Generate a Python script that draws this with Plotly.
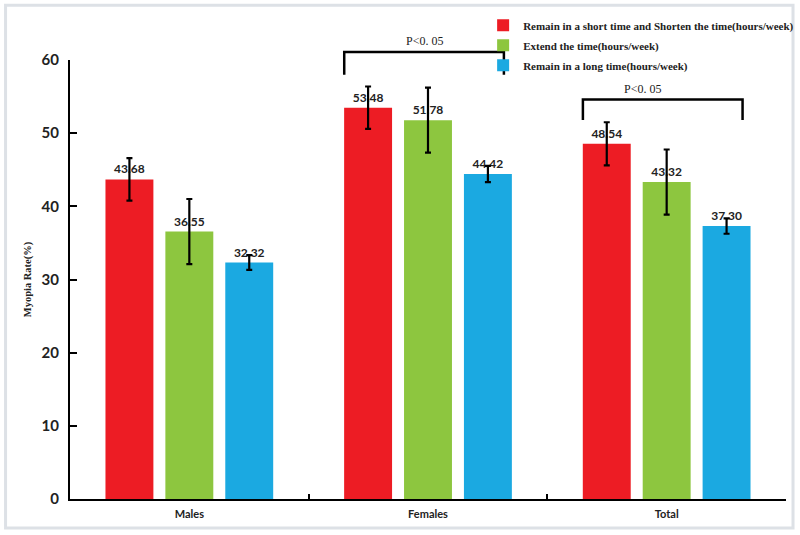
import plotly.graph_objects as go

categories = ["Males", "Females", "Total"]
series_names = [
    "Remain in a short time and Shorten the time(hours/week)",
    "Extend the time(hours/week)",
    "Remain in a long time(hours/week)",
]
short_values = [43.68, 53.48, 48.54]
extend_values = [36.55, 51.78, 43.32]
long_values = [32.32, 44.42, 37.30]
short_err = [2.9, 2.9, 2.95]
extend_err = [4.45, 4.45, 4.45]
long_err = [1.0, 1.1, 1.05]
colors = ["#ED1C24", "#8DC63F", "#1BA9E1"]
y_ticks = [0, 10, 20, 30, 40, 50, 60]
Y_MAX = 60

fig = go.Figure()
for i, (name, vals, errs, col) in enumerate(zip(series_names, [short_values, extend_values, long_values],
                                 [short_err, extend_err, long_err], colors)):
    fig.add_trace(go.Bar(
        name=name, x=categories, y=vals, marker=dict(color=col, line=dict(width=0)),
        legendgroup=f"g{i}",
        error_y=dict(type="data", array=errs, color="black", thickness=2.2, width=3),
        text=[f"{v:.2f}" for v in vals], textposition="outside",
        textfont=dict(family="Lato", size=12, color="#222", weight="bold"),
        cliponaxis=False,
    ))

# significance brackets (Females, Total)
brackets = [(1, 61.1, 58.0), (2, 54.6, 51.8)]
ncat = len(categories)
for ci, ytop, yend in brackets:
    x0 = (ci - 0.351 + 0.5) / ncat
    x1 = (ci + 0.318 + 0.5) / ncat
    yt = ytop / Y_MAX
    ye = yend / Y_MAX
    fig.add_shape(type="path", xref="paper", yref="paper",
                  path=f"M {x0},{ye} L {x0},{yt} L {x1},{yt} L {x1},{ye}",
                  line=dict(color="black", width=2.5))
    fig.add_annotation(x=(x0 + x1) / 2, y=yt, xref="paper", yref="paper", text="P<0. 05",
                       showarrow=False, yanchor="bottom", yshift=2,
                       font=dict(family="Liberation Serif", size=12, color="#222"))

# outer light frame
fig.add_shape(type="rect", xref="paper", yref="paper", x0=-0.09, x1=1.0098, y0=-0.066, y1=1.125,
              line=dict(color="#DDE1E6", width=3), layer="below")

fig.update_layout(
    width=800, height=535, barmode="group", bargap=0.247, bargroupgap=0.2,
    margin=dict(l=70, r=14, t=60, b=36, autoexpand=False),
    plot_bgcolor="white", paper_bgcolor="white",
    legend=dict(x=0.577, y=1.112, xanchor="left", yanchor="top", bgcolor="rgba(0,0,0,0)",
                font=dict(family="Liberation Serif", size=11, color="#222", weight="bold"),
                tracegroupgap=1, itemwidth=30),
    xaxis=dict(showline=True, linecolor="black", linewidth=2, ticks="inside", tickson="boundaries",
               ticklen=5, tickwidth=2, tickcolor="black", ticklabelstandoff=4,
               tickfont=dict(family="Lato", size=11, color="#222", weight="bold")),
    yaxis=dict(range=[0, Y_MAX], tickvals=y_ticks, showline=True, linecolor="black", linewidth=2,
               ticks="inside", ticklen=7, tickwidth=2, tickcolor="black", showgrid=False, zeroline=False,
               tickfont=dict(family="Lato", size=15, color="#222", weight="bold"), ticklabelstandoff=6,
               title=dict(text="Myopia Rate(%)", standoff=8,
                          font=dict(family="Liberation Serif", size=10.5, color="#222", weight="bold"))),
)
fig.write_html("out.html", config={"displayModeBar": False},
               post_script="document.body.style.margin='0';")
